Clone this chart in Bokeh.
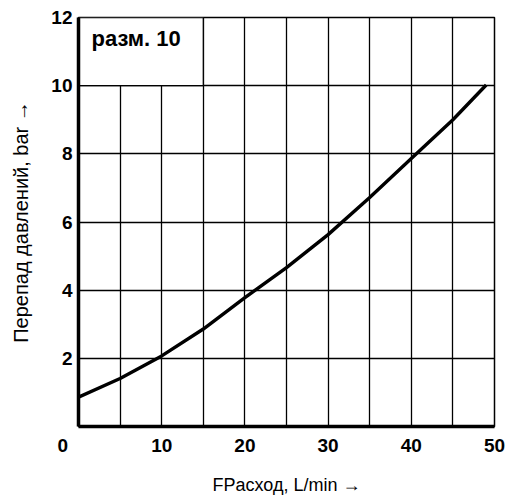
from bokeh.plotting import figure
from bokeh.models import Range1d, FixedTicker
from bokeh.models import Label
from bokeh.embed import file_html
from bokeh.resources import INLINE

# Data
flow = [0, 5, 10, 15, 20, 25, 30, 35, 40, 45, 49]
dp = [0.86, 1.41, 2.07, 2.86, 3.78, 4.66, 5.63, 6.72, 7.86, 9.0, 10.02]

x_ticks = [0, 10, 20, 30, 40, 50]
y_ticks = [2, 4, 6, 8, 10, 12]
x_grid = [5, 10, 15, 20, 25, 30, 35, 40, 45]
y_grid = [2, 4, 6, 8, 10]

title_text = "разм. 10"
x_label = "FPасход, L/min \u2192"
y_label = "Перепад давлений, bar \u2192"

FONT = "Liberation Sans"
NBSP = "\u00a0"

p = figure(width=508, height=497, x_range=Range1d(0, 50), y_range=Range1d(0, 12),
           output_backend="svg", toolbar_location=None,
           min_border_left=78, min_border_right=14, min_border_top=17, min_border_bottom=64)

p.background_fill_color = "white"
p.border_fill_color = "white"
p.outline_line_color = "black"
p.outline_line_width = 1.5
p.outline_line_alpha = 1

# Grid
p.xgrid.ticker = FixedTicker(ticks=x_grid)
p.ygrid.ticker = FixedTicker(ticks=y_grid)
for g in (p.xgrid, p.ygrid):
    g.grid_line_color = "black"
    g.grid_line_width = 1.3
    g.grid_line_alpha = 1

# Axes
p.xaxis.ticker = FixedTicker(ticks=x_ticks)
p.yaxis.ticker = FixedTicker(ticks=y_ticks)
for ax in (p.xaxis, p.yaxis):
    ax.axis_line_width = 3.5
    ax.axis_line_color = "black"
    ax.major_tick_line_color = None
    ax.minor_tick_line_color = None
    ax.major_tick_out = 0
    ax.major_tick_in = 0
    ax.major_label_text_font = FONT
    ax.major_label_text_font_style = "bold"
    ax.major_label_text_font_size = "19px"
    ax.major_label_text_color = "black"
    ax.axis_label_text_font = FONT
    ax.axis_label_text_font_style = "normal"
    ax.axis_label_text_color = "black"

# origin label "0" sits left of the axis: pad it with no-break spaces
p.xaxis.major_label_overrides = {0: "0" + NBSP * 6}
p.xaxis.major_label_standoff = 8
p.yaxis.major_label_standoff = 6

p.xaxis.axis_label = x_label
p.yaxis.axis_label = y_label
p.xaxis.axis_label_text_font_size = "18px"
p.yaxis.axis_label_text_font_size = "20px"
p.xaxis.axis_label_standoff = 16
p.yaxis.axis_label_standoff = 16

# White box behind the size label (hides grid lines in the top-left cell)
p.quad(left=0, right=15, bottom=10, top=12, fill_color="white",
       line_color="black", line_width=1.3)

# Curve
p.line(flow, dp, line_color="black", line_width=3.4, line_join="round")

# Size label
p.add_layout(Label(x=0, y=12, x_units="data", y_units="data", text=title_text,
                   x_offset=13, y_offset=-21, text_align="left", text_baseline="middle",
                   text_font=FONT, text_font_style="bold", text_font_size="22px",
                   text_color="black"))

open("out.html", "w").write(file_html(p, INLINE))
